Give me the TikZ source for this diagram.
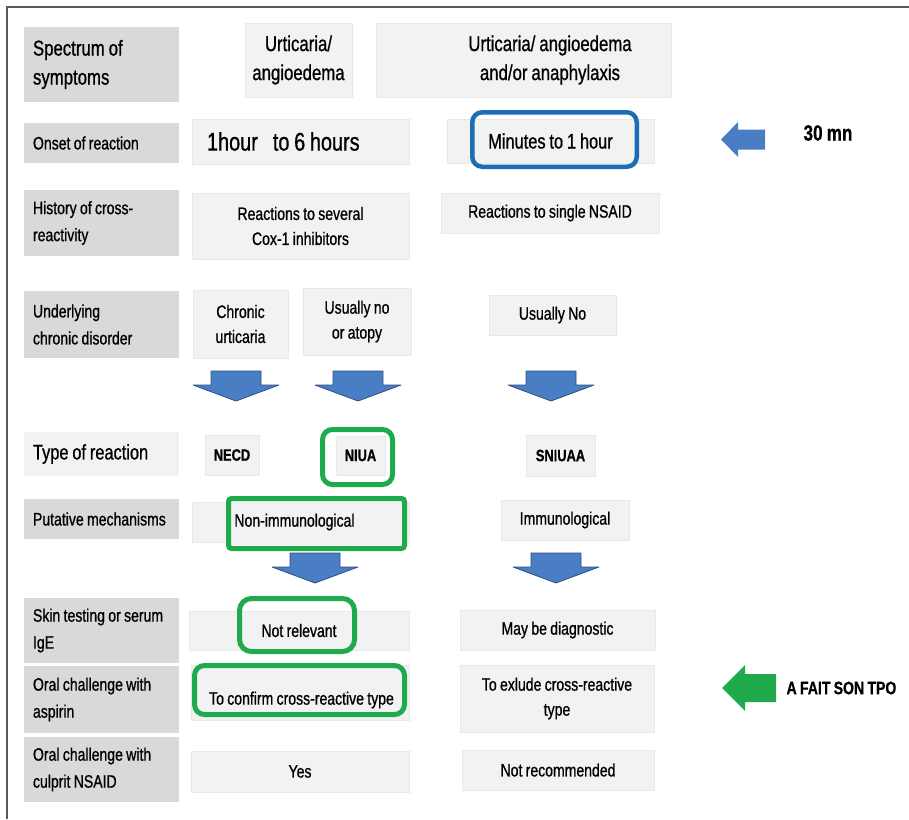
\documentclass[tikz,border=0pt]{standalone}
\usepackage{fontspec}
\setmainfont{Liberation Sans}[FakeStretch=0.78, WordSpace=0.85, FakeBold=0.8]
\usetikzlibrary{positioning}

\definecolor{labelgray}{HTML}{D9D9D9}
\definecolor{cellgray}{HTML}{F2F2F2}
\definecolor{hiblue}{HTML}{1B6DB5}
\definecolor{higreen}{HTML}{1FAA4E}
\definecolor{arrowblue}{HTML}{4A7EC4}
\definecolor{arrowedge}{HTML}{2E4F80}

\tikzset{
    wh/.style 2 args={minimum width=#1pt, minimum height=#2pt}, % box size in pixels
    rowlabel/.style={rectangle, fill=labelgray, inner sep=0pt, align=flush left, text width=137pt, font=\fontsize{18}{27}\selectfont},
    toplabel/.style={rowlabel, font=\fontsize{21.5}{29}\selectfont},
    cell/.style={rectangle, fill=cellgray, draw=black!9, line width=0.8pt, inner sep=0pt, align=center, font=\fontsize{18}{25}\selectfont},
    topcell/.style={cell, font=\fontsize{21.5}{29}\selectfont},
    celltext/.style={inner sep=0pt, align=center, font=\fontsize{18}{25}\selectfont},
    hlblue/.style={draw=hiblue, line width=4.5pt, rounded corners=10pt, inner sep=0pt},
    hlgreen/.style={draw=higreen, line width=5pt, rounded corners=10pt, inner sep=0pt},
    pics/downarrow/.style={code={
        \filldraw[fill=arrowblue, draw=arrowedge, line width=0.8pt, line join=round]
            (-25,0) -- (25,0) -- (25,14) -- (43,14) -- (0,30) -- (-43,14) -- (-25,14) -- cycle;
    }}
}

\begin{document}
\begin{tikzpicture}[x=1pt, y=-1pt]
    \useasboundingbox (0,0) rectangle (909,819);
    \draw[black!65, line width=1.8pt] (909,7) -- (7,7) -- (7,819);

    % Row labels
    \node[toplabel, wh={155}{75}] (spectrum) at (101.5,64.5) {Spectrum of\\symptoms};
    \node[rowlabel, wh={155}{40}] (onset) at (101.5,143) {Onset of reaction};
    \node[rowlabel, wh={155}{66}] (history) at (101.5,223) {History of cross-\\reactivity};
    \node[rowlabel, wh={155}{67}] (underlying) at (101.5,324.5) {Underlying\\chronic disorder};
    \node[rowlabel, fill=cellgray, wh={155}{44}, font=\fontsize{21}{27}\selectfont] (type) at (101.5,454) {Type of reaction};
    \node[rowlabel, wh={155}{40}] (putative) at (101.5,519) {Putative mechanisms};
    \node[rowlabel, wh={155}{65}] (skin) at (101.5,630.5) {Skin testing or serum\\IgE};
    \node[rowlabel, wh={155}{67}] (aspirin) at (101.5,699.5) {Oral challenge with\\aspirin};
    \node[rowlabel, wh={155}{65}] (culprit) at (101.5,769.5) {Oral challenge with\\culprit NSAID};

    % Spectrum
    \node[topcell, wh={107}{74}] (urt) at (298.5,60) {Urticaria/\\angioedema};
    \node[topcell, wh={295}{74}] (ana) at (523.5,60) {};
    \node[celltext, font=\fontsize{21.5}{29}\selectfont, xshift=26.5pt] (anatxt) at (ana) {Urticaria/ angioedema\\and/or anaphylaxis};

    % Onset
    \node[cell, wh={217}{45}, text width=187pt, align=flush left, font=\fontsize{25.5}{30}\selectfont] (late) at (300.5,141.5) {1hour\hspace{15pt}to 6 hours};
    \node[cell, wh={207}{44}, font=\fontsize{21}{26}\selectfont] (early) at (550.5,141) {Minutes to 1 hour};
    \node[hlblue, wh={164.5}{54.5}] (earlybox) at (554.5,139.5) {};
    \fill[arrowblue] (721,139.5) -- (738,122) -- (738,129.5) -- (765,129.5) -- (765,149.5) -- (738,149.5) -- (738,157) -- cycle;
    \node[font=\fontsize{22}{26}\selectfont\bfseries] (thirty) at (828,133) {30 mn};

    % Cross-reactivity
    \node[cell, wh={217}{66}] (several) at (300.5,226) {Reactions to several\\Cox-1 inhibitors};
    \node[cell, wh={218}{40}] (single) at (550,213) {Reactions to single NSAID};

    % Chronic disorder
    \node[cell, wh={95}{68}] (chronic) at (240.5,324) {Chronic\\urticaria};
    \node[cell, wh={108}{67}] (atopy) at (357,321.5) {Usually no\\or atopy};
    \node[cell, wh={127}{40}] (usno) at (552.5,315) {Usually No};

    \pic at (236,371) {downarrow};
    \pic at (358,371) {downarrow};
    \pic at (551,371) {downarrow};

    % Type of reaction
    \node[cell, wh={54}{40}, font=\fontsize{16.5}{20}\selectfont\bfseries] (necd) at (232,455) {NECD};
    \node[cell, wh={49}{39}, font=\fontsize{16.5}{20}\selectfont\bfseries] (niua) at (360.5,455.5) {NIUA};
    \node[hlgreen, wh={70}{55}] (niuabox) at (357.5,457) {};
    \node[cell, wh={69}{41}, font=\fontsize{16.5}{20}\selectfont\bfseries] (sniuaa) at (560.5,455.5) {SNIUAA};

    % Mechanisms
    \node[cell, wh={217}{40}] (nonimm) at (300.5,522) {};
    \node[hlgreen, wh={176}{50}, rounded corners=3pt, fill=cellgray] (nonimmbox) at (316.5,523.5) {};
    \node[celltext] (nonimmtxt) at (294.5,522) {Non-immunological};
    \node[cell, wh={128}{40}] (imm) at (565,520) {Immunological};

    \pic at (315,553) {downarrow};
    \pic at (556,553) {downarrow};

    % Skin testing
    \node[cell, wh={220}{39}] (notrel) at (299,630.5) {Not relevant};
    \node[hlgreen, wh={115}{53}, rounded corners=12pt] (notrelbox) at (297,625) {};
    \node[cell, wh={195}{40}] (diag) at (557.5,630) {May be diagnostic};

    % Oral challenge with aspirin
    \node[cell, wh={218}{55}] (confirm) at (300,692.5) {};
    \node[hlgreen, wh={210}{49}] (confirmbox) at (299.5,690) {};
    \node[celltext] (confirmtxt) at (301.5,700) {To confirm cross-reactive type};
    \node[cell, wh={194}{67}] (exclude) at (557,698.5) {To exlude cross-reactive\\type};
    \fill[higreen] (722,688) -- (745,665) -- (745,674) -- (776,674) -- (776,702) -- (745,702) -- (745,711) -- cycle;
    \node[anchor=west, font=\fontsize{18}{22}\selectfont\bfseries] (tpo) at (783,688) {A FAIT SON TPO};

    % Oral challenge with culprit
    \node[cell, wh={218}{41}] (yes) at (300,771.5) {Yes};
    \node[cell, wh={192}{40}] (notrec) at (558,770) {Not recommended};
\end{tikzpicture}
\end{document}
